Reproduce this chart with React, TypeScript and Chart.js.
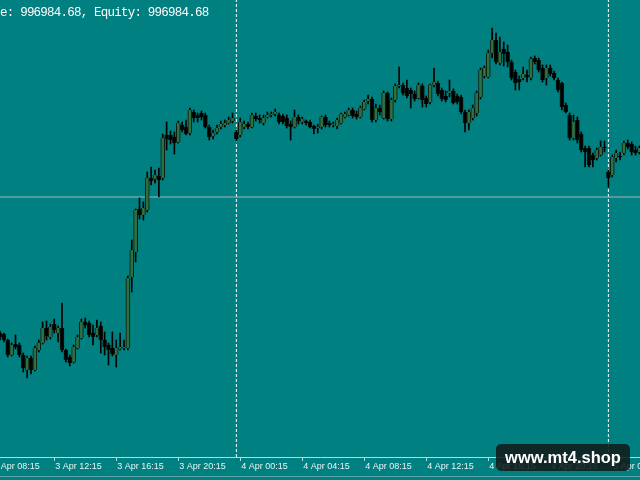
import { useEffect, useRef } from "react";
import { Chart, registerables } from "chart.js";

Chart.register(...registerables);

// M15 candles, first visible candle = 3 Apr 08:45
const opens = [
  1.2667, 1.2666, 1.2660, 1.2645, 1.2656, 1.2655, 1.2645, 1.2630, 1.2642, 1.2630,
  1.2650, 1.2657, 1.2672, 1.2663, 1.2676, 1.2667, 1.2672, 1.2650, 1.2643, 1.2638,
  1.2652, 1.2662, 1.2678, 1.2677, 1.2667, 1.2665, 1.2674, 1.2660, 1.2655, 1.2652,
  1.2645, 1.2651, 1.2652, 1.2652, 1.2723, 1.2748, 1.2791, 1.2785, 1.2790, 1.2822,
  1.2821, 1.2824, 1.2822, 1.2865, 1.2865, 1.2863, 1.2858, 1.2875, 1.2873, 1.2867,
  1.2888, 1.2885, 1.2887, 1.2885, 1.2873, 1.2864, 1.2868, 1.2873, 1.2875, 1.2877,
  1.2879, 1.2868, 1.2865, 1.2873, 1.2876, 1.2873, 1.2884, 1.2882, 1.2877, 1.2883,
  1.2885, 1.2886, 1.2885, 1.2884, 1.2882, 1.2876, 1.2873, 1.2883, 1.2878, 1.2879,
  1.2878, 1.2874, 1.2872, 1.2873, 1.2883, 1.2877, 1.2875, 1.2874, 1.2877, 1.2883,
  1.2885, 1.2890, 1.2886, 1.2883, 1.2891, 1.2899, 1.2901, 1.2880, 1.2892, 1.2882,
  1.2907, 1.2881, 1.2900, 1.2914, 1.2915, 1.2912, 1.2910, 1.2906, 1.2902, 1.2914,
  1.2902, 1.2898, 1.2915, 1.2917, 1.2910, 1.2904, 1.2907, 1.2909, 1.2904, 1.2903,
  1.2888, 1.2877, 1.2882, 1.2887, 1.2903, 1.2924, 1.2923, 1.2947, 1.2960, 1.2937,
  1.2951, 1.2948, 1.2938, 1.2928, 1.2921, 1.2922, 1.2925, 1.2922, 1.2942, 1.2940,
  1.2932, 1.2922, 1.2932, 1.2927, 1.2920, 1.2917, 1.2895, 1.2885, 1.2862, 1.2880,
  1.2866, 1.2852, 1.2852, 1.2845, 1.2842, 1.2845, 1.2853, 1.2828, 1.2825, 1.2842,
  1.2844, 1.2847, 1.2857, 1.2856, 1.2850, 1.2848,
];

const highs = [
  1.2669, 1.2667, 1.2661, 1.2657, 1.2665, 1.2657, 1.2647, 1.2644, 1.2644, 1.2654,
  1.2660, 1.2678, 1.2679, 1.2676, 1.2681, 1.2674, 1.2697, 1.2651, 1.2645, 1.2655,
  1.2665, 1.2681, 1.2682, 1.2679, 1.2675, 1.2680, 1.2678, 1.2668, 1.2657, 1.2668,
  1.2660, 1.2667, 1.2660, 1.2724, 1.2760, 1.2791, 1.2802, 1.2798, 1.2828, 1.2833,
  1.2830, 1.2832, 1.2866, 1.2878, 1.2869, 1.2868, 1.2879, 1.2878, 1.2880, 1.2892,
  1.2890, 1.2887, 1.2889, 1.2887, 1.2875, 1.2870, 1.2875, 1.2879, 1.2880, 1.2883,
  1.2887, 1.2870, 1.2882, 1.2879, 1.2878, 1.2887, 1.2887, 1.2885, 1.2885, 1.2888,
  1.2888, 1.2891, 1.2887, 1.2886, 1.2885, 1.2879, 1.2890, 1.2885, 1.2883, 1.2880,
  1.2880, 1.2875, 1.2876, 1.2884, 1.2885, 1.2879, 1.2878, 1.2882, 1.2887, 1.2888,
  1.2892, 1.2892, 1.2889, 1.2894, 1.2900, 1.2905, 1.2903, 1.2896, 1.2895, 1.2909,
  1.2908, 1.2902, 1.2916, 1.2933, 1.2917, 1.2920, 1.2912, 1.2909, 1.2917, 1.2916,
  1.2904, 1.2916, 1.2932, 1.2919, 1.2912, 1.2909, 1.2920, 1.2911, 1.2906, 1.2905,
  1.2890, 1.2890, 1.2895, 1.2909, 1.2932, 1.2934, 1.2950, 1.2972, 1.2967, 1.2963,
  1.2958, 1.2955, 1.2940, 1.2930, 1.2924, 1.2933, 1.2930, 1.2943, 1.2944, 1.2942,
  1.2935, 1.2935, 1.2935, 1.2929, 1.2922, 1.2918, 1.2897, 1.2887, 1.2885, 1.2883,
  1.2868, 1.2854, 1.2854, 1.2847, 1.2852, 1.2859, 1.2859, 1.2830, 1.2845, 1.2850,
  1.2848, 1.2859, 1.2860, 1.2858, 1.2854, 1.2854,
];

const lows = [
  1.2660, 1.2658, 1.2643, 1.2644, 1.2651, 1.2643, 1.2628, 1.2622, 1.2626, 1.2629,
  1.2648, 1.2656, 1.2660, 1.2661, 1.2667, 1.2658, 1.2648, 1.2638, 1.2634, 1.2637,
  1.2651, 1.2661, 1.2672, 1.2663, 1.2655, 1.2663, 1.2647, 1.2645, 1.2635, 1.2644,
  1.2633, 1.2650, 1.2650, 1.2650, 1.2708, 1.2738, 1.2781, 1.2780, 1.2788, 1.2815,
  1.2817, 1.2803, 1.2820, 1.2850, 1.2856, 1.2846, 1.2857, 1.2868, 1.2865, 1.2865,
  1.2878, 1.2878, 1.2880, 1.2872, 1.2860, 1.2861, 1.2866, 1.2871, 1.2873, 1.2876,
  1.2877, 1.2859, 1.2863, 1.2871, 1.2871, 1.2872, 1.2879, 1.2877, 1.2875, 1.2882,
  1.2883, 1.2884, 1.2876, 1.2876, 1.2872, 1.2860, 1.2872, 1.2876, 1.2876, 1.2875,
  1.2872, 1.2866, 1.2867, 1.2871, 1.2873, 1.2873, 1.2873, 1.2871, 1.2876, 1.2882,
  1.2884, 1.2882, 1.2881, 1.2882, 1.2890, 1.2896, 1.2878, 1.2878, 1.2885, 1.2881,
  1.2879, 1.2879, 1.2898, 1.2912, 1.2905, 1.2902, 1.2892, 1.2899, 1.2901, 1.2893,
  1.2893, 1.2896, 1.2913, 1.2904, 1.2899, 1.2898, 1.2903, 1.2896, 1.2896, 1.2886,
  1.2868, 1.2870, 1.2880, 1.2884, 1.2901, 1.2922, 1.2922, 1.2942, 1.2936, 1.2935,
  1.2934, 1.2933, 1.2920, 1.2910, 1.2910, 1.2920, 1.2918, 1.2920, 1.2936, 1.2928,
  1.2918, 1.2915, 1.2924, 1.2920, 1.2908, 1.2890, 1.2887, 1.2860, 1.2860, 1.2857,
  1.2848, 1.2833, 1.2833, 1.2833, 1.2840, 1.2844, 1.2848, 1.2813, 1.2823, 1.2838,
  1.2840, 1.2845, 1.2851, 1.2845, 1.2845, 1.2846,
];

const closes = [
  1.2663, 1.2660, 1.2645, 1.2655, 1.2653, 1.2645, 1.2632, 1.2642, 1.2630, 1.2652,
  1.2657, 1.2672, 1.2664, 1.2673, 1.2670, 1.2672, 1.2650, 1.2640, 1.2637, 1.2653,
  1.2663, 1.2678, 1.2675, 1.2665, 1.2663, 1.2672, 1.2660, 1.2653, 1.2650, 1.2646,
  1.2652, 1.2653, 1.2653, 1.2722, 1.2750, 1.2790, 1.2785, 1.2792, 1.2822, 1.2819,
  1.2825, 1.2820, 1.2862, 1.2861, 1.2860, 1.2857, 1.2877, 1.2870, 1.2866, 1.2890,
  1.2882, 1.2882, 1.2883, 1.2873, 1.2863, 1.2867, 1.2872, 1.2876, 1.2877, 1.2880,
  1.2882, 1.2861, 1.2878, 1.2876, 1.2873, 1.2885, 1.2881, 1.2880, 1.2882, 1.2885,
  1.2886, 1.2888, 1.2878, 1.2878, 1.2874, 1.2873, 1.2883, 1.2879, 1.2881, 1.2877,
  1.2873, 1.2871, 1.2873, 1.2883, 1.2875, 1.2875, 1.2876, 1.2880, 1.2886, 1.2886,
  1.2890, 1.2884, 1.2883, 1.2892, 1.2898, 1.2901, 1.2880, 1.2892, 1.2888, 1.2907,
  1.2881, 1.2900, 1.2914, 1.2915, 1.2907, 1.2904, 1.2906, 1.2901, 1.2915, 1.2900,
  1.2896, 1.2915, 1.2918, 1.2906, 1.2901, 1.2900, 1.2909, 1.2897, 1.2898, 1.2888,
  1.2877, 1.2888, 1.2892, 1.2907, 1.2930, 1.2932, 1.2947, 1.2960, 1.2938, 1.2948,
  1.2946, 1.2938, 1.2922, 1.2917, 1.2918, 1.2926, 1.2923, 1.2941, 1.2938, 1.2930,
  1.2920, 1.2932, 1.2926, 1.2922, 1.2910, 1.2893, 1.2888, 1.2862, 1.2878, 1.2860,
  1.2850, 1.2848, 1.2835, 1.2840, 1.2850, 1.2853, 1.2852, 1.2822, 1.2843, 1.2847,
  1.2843, 1.2857, 1.2853, 1.2848, 1.2847, 1.2852,
];

// time axis: candle index of each labelled bar, and its label
const tickIndices = [-2, 14, 30, 46, 62, 78, 94, 110, 126, 142, 158];
const tickLabels = [
  "3 Apr 08:15", "3 Apr 12:15", "3 Apr 16:15", "3 Apr 20:15",
  "4 Apr 00:15", "4 Apr 04:15", "4 Apr 08:15", "4 Apr 12:15",
  "4 Apr 16:15", "4 Apr 20:15", "5 Apr 00:15",
];

// period separators (candle index of 4 Apr 00:00 and 5 Apr 00:00)
const daySeparators = [61, 157];

const bidPrice = 1.2803;
const priceMin = 1.2543;
const priceMax = 1.3;
const visibleBars = 165.16;

const accountText = "e: 996984.68, Equity: 996984.68";
const watermarkText = "www.mt4.shop";

const BG = "#008080";
const BULL = "#2e7042";
const BEAR = "#000000";
const AXIS = "#b5d9d9";
const LABEL = "#e6f3f3";

export default function App() {
  const canvasRef = useRef<HTMLCanvasElement>(null);

  useEffect(() => {
    document.body.style.margin = "0";
    const canvas = canvasRef.current;
    if (!canvas) return;

    const wickData = opens.map((_, i) => ({ x: i, y: [lows[i], highs[i]] }));
    const bodyData = opens.map((o, i) => ({ x: i, y: [o, closes[i]] }));
    const bodyColors = opens.map((o, i) => (closes[i] > o ? BULL : BEAR));

    const datasets: any[] = [
      {
        type: "bar",
        data: bodyData,
        backgroundColor: bodyColors,
        borderColor: "#0a1a10",
        borderWidth: { left: 1, right: 1, top: 0, bottom: 0 },
        borderSkipped: false,
        barThickness: 4,
        minBarLength: 1,
        grouped: false,
        order: 1,
      },
      {
        type: "bar",
        data: wickData,
        backgroundColor: "#000000",
        borderWidth: 0,
        barThickness: 1,
        grouped: false,
        order: 2,
      },
      {
        type: "line",
        data: [
          { x: 0, y: bidPrice },
          { x: visibleBars, y: bidPrice },
        ],
        borderColor: "#a2b4ba",
        borderWidth: 1,
        pointRadius: 0,
        order: 3,
      },
      ...daySeparators.map((s) => ({
        type: "line",
        data: [
          { x: s, y: priceMin },
          { x: s, y: priceMax },
        ],
        borderColor: "#ffffff",
        borderWidth: 1,
        borderDash: [3, 2],
        pointRadius: 0,
        order: 4,
      })),
    ];

    const chart = new Chart(canvas, {
      type: "bar",
      data: { datasets },
      options: {
        animation: false,
        responsive: true,
        maintainAspectRatio: false,
        events: [],
        layout: { padding: 0 },
        plugins: {
          legend: { display: false },
          tooltip: { enabled: false },
          title: { display: false },
        },
        scales: {
          x: {
            type: "linear",
            min: 0,
            max: visibleBars,
            offset: false,
            afterBuildTicks: (scale: any) => {
              scale.ticks = tickIndices.map((v) => ({ value: v }));
            },
            afterFit: (scale: any) => {
              scale.height = 23;
              scale.paddingLeft = 0;
              scale.paddingRight = 0;
            },
            ticks: {
              autoSkip: false,
              maxRotation: 0,
              minRotation: 0,
              align: "start",
              labelOffset: 1,
              padding: 0,
              color: LABEL,
              font: { family: "'Liberation Sans', Arial, sans-serif", size: 9 },
              callback: (_v: any, index: number) => tickLabels[index],
            },
            grid: {
              display: true,
              drawOnChartArea: false,
              drawTicks: true,
              tickLength: 4,
              color: AXIS,
              offset: false,
            },
            border: { display: true, color: AXIS, width: 1 },
          },
          y: {
            type: "linear",
            display: false,
            min: priceMin,
            max: priceMax,
          },
        },
      } as any,
    });

    return () => chart.destroy();
  }, []);

  return (
    <div
      style={{
        position: "absolute",
        left: 0,
        top: 0,
        width: 640,
        height: 480,
        background: BG,
        overflow: "hidden",
      }}
    >
      <div style={{ position: "absolute", left: 0, top: 0, width: 640, height: 480 }}>
        <canvas ref={canvasRef} style={{ display: "block" }} />
      </div>
      <div
        style={{
          position: "absolute",
          left: 0,
          top: 7,
          color: "#ffffff",
          fontFamily: "'Liberation Mono', 'DejaVu Sans Mono', monospace",
          fontSize: 12.5,
          letterSpacing: "-0.78px",
          lineHeight: 1,
          whiteSpace: "pre",
        }}
      >
        {accountText}
      </div>
      <div
        style={{
          position: "absolute",
          left: 0,
          top: 476,
          width: 640,
          height: 1,
          background: "#5aa7a7",
        }}
      />
      <div
        style={{
          position: "absolute",
          left: 496,
          top: 444,
          width: 134,
          height: 27,
          borderRadius: 5,
          background: "rgba(18,24,24,0.86)",
          color: "#ffffff",
          fontFamily: "'Liberation Sans', Arial, sans-serif",
          fontWeight: "bold",
          fontSize: 16.5,
          display: "flex",
          alignItems: "center",
          justifyContent: "center",
        }}
      >
        {watermarkText}
      </div>
    </div>
  );
}
